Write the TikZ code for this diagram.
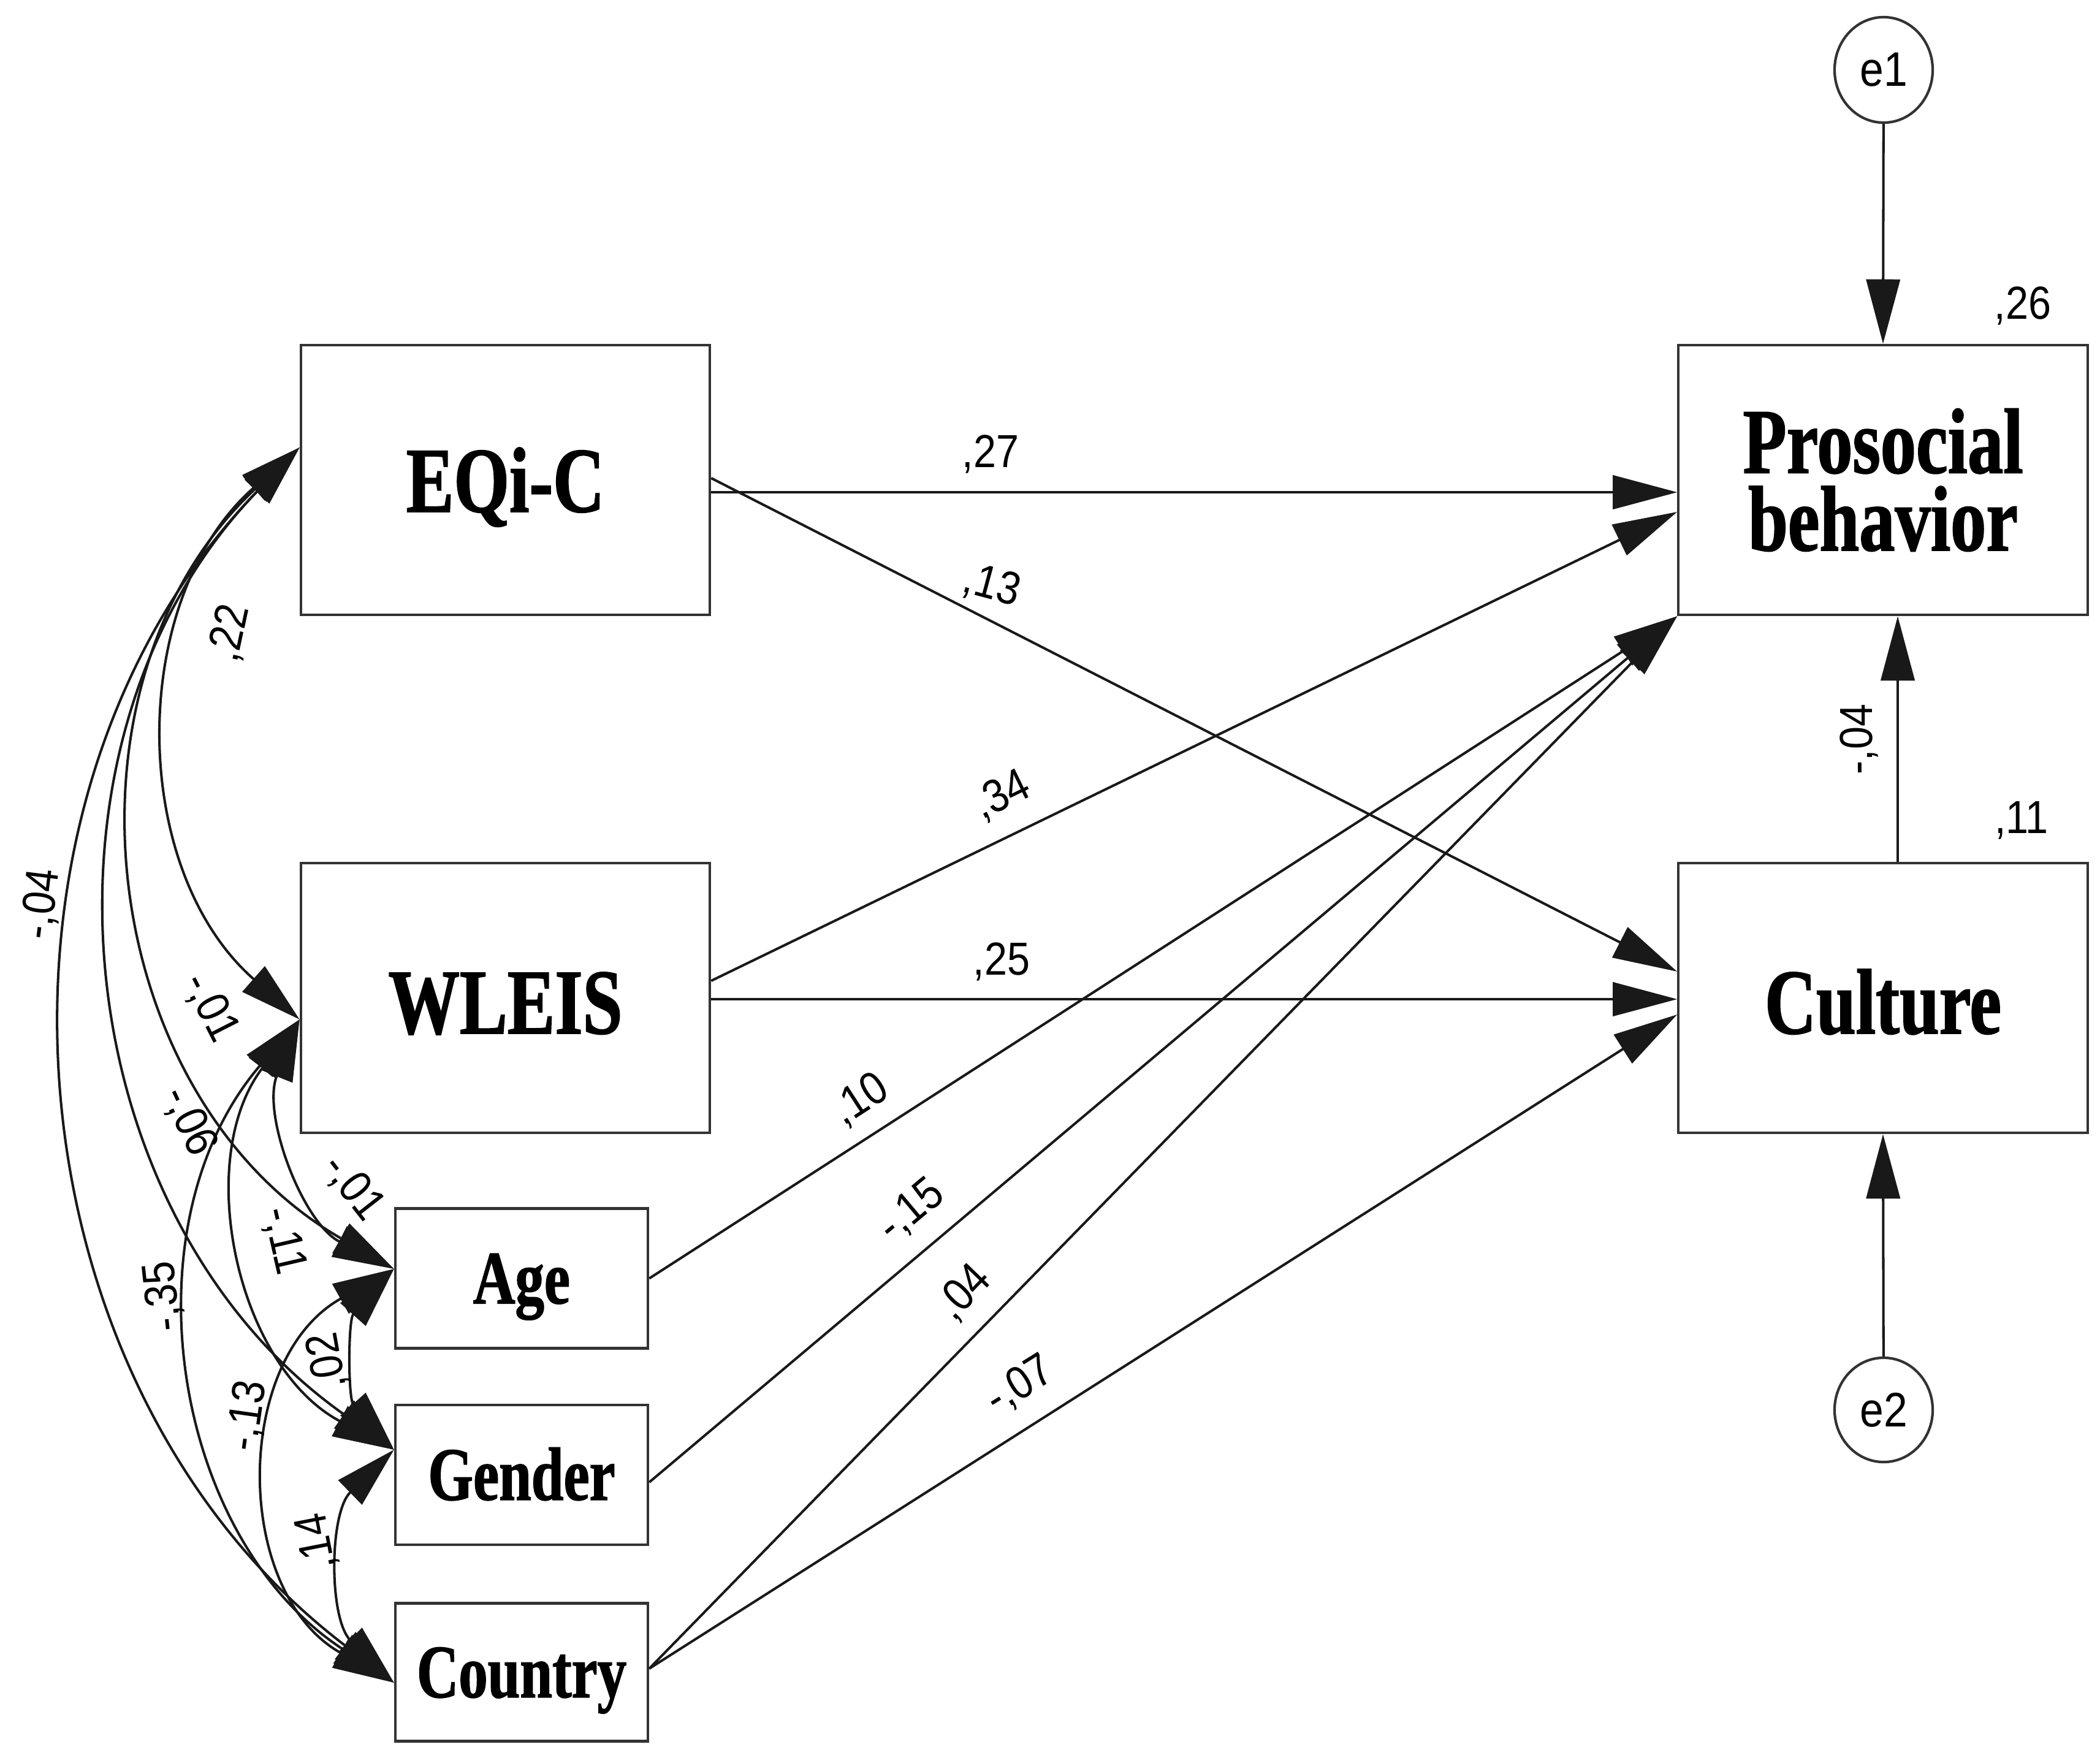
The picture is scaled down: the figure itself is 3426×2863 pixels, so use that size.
\documentclass[tikz,border=0pt]{standalone}
\usepackage{fontspec}
\usetikzlibrary{arrows.meta,shapes.geometric,calc}
\newfontfamily\boxfont{Liberation Serif}[FakeStretch=0.77, BoldFeatures={FakeBold=1.2}]
\newfontfamily\labfont{Liberation Sans}[FakeStretch=0.88]
\begin{document}
\begin{tikzpicture}[x=0.01cm, y=-0.01cm,
  box/.style={draw=black!80, line width=1.2pt, inner sep=0pt, fill=white},
  bigbox/.style={box, minimum width=6.67cm, minimum height=4.4cm,
     font=\boxfont\bfseries\fontsize{43}{36}\selectfont},
  smallbox/.style={box, minimum width=4.12cm, minimum height=2.28cm,
     font=\boxfont\bfseries\fontsize{35}{36}\selectfont, text height=23.2pt, text depth=0pt},
  err/.style={ellipse, draw=black!80, line width=1.2pt, minimum width=1.6cm, minimum height=1.72cm,
     inner sep=0pt, font=\labfont\fontsize{22.5}{24}\selectfont},
  pth/.style={line width=1.15pt, draw=black!90, -{Triangle[length=1.05cm,width=0.55cm]}},
  cov/.style={line width=1.15pt, draw=black!90,
     {Triangle[length=1.0cm,width=0.55cm]}-{Triangle[length=1.0cm,width=0.55cm]}},
  lab/.style={font=\labfont\fontsize{21.5}{24}\selectfont, inner sep=0pt}
]
\useasboundingbox (0,0) rectangle (3426,2863);

% boxes
\node[bigbox, text height=29.5pt, text depth=0pt] (eq) at (824.5,783) {EQi-C};
\node[bigbox, text height=33pt, text depth=0pt] (wl) at (824.5,1628) {WLEIS};
\node[bigbox, align=center] (pro) at (3072,783) {Prosocial\\behavior};
\node[bigbox, text height=33pt, text depth=0pt] (cul) at (3072,1628) {Culture};
\node[smallbox] (age) at (851,2085.5) {Age};
\node[smallbox] (gen) at (851,2406) {Gender};
\node[smallbox, minimum height=2.25cm] (cou) at (851,2728) {Country};
\node[err] (e1) at (3073,114) {e1};
\node[err, minimum height=1.7cm] (e2) at (3073,2300) {e2};

% directed paths
\draw[pth] ([yshift=-0.2cm]eq.east) -- ([yshift=-0.2cm]pro.west);
\draw[pth] ([yshift=0.03cm]eq.east) -- ([yshift=0.43cm]cul.west);
\draw[pth] ([yshift=0.28cm]wl.east) -- ([yshift=-0.52cm]pro.west);
\draw[pth] ([yshift=-0.02cm]wl.east) -- ([yshift=-0.02cm]cul.west);
\draw[pth] (age.east) -- (pro.south west);
\draw[pth] ([yshift=-0.12cm]gen.east) -- (pro.south west);
\draw[pth] ([yshift=0.06cm]cou.east) -- (pro.south west);
\draw[pth] ([yshift=0.06cm]cou.east) -- ([yshift=-0.27cm]cul.west);
\draw[pth] ([xshift=0.24cm]cul.north) -- ([xshift=0.24cm]pro.south);
\draw[pth] (e1) -- (pro.north);
\draw[pth] (e2) -- (cul.south);

% covariance attachment points
\coordinate (cE) at ([yshift=0.53cm]eq.west);
\coordinate (cW) at ([yshift=-0.35cm]wl.west);
\coordinate (cA) at ([yshift=0.155cm]age.west);
\coordinate (cG) at ([yshift=0.41cm]gen.west);
\coordinate (cK) at ([yshift=-0.17cm]cou.west);

% covariances
\draw[cov] (cE) to[bend right=48.7, looseness=1.025] (cW);
\draw[cov] (cE) to[bend right=53.5, looseness=1.068] (cA);
\draw[cov] (cE) to[bend right=49.4, looseness=1.03] (cG);
\draw[cov] (cE) to[bend right=48.4, looseness=1.02] (cK);
\draw[cov] (cW) to[bend right=42.7, looseness=0.98] (cA);
\draw[cov] (cW) to[bend right=49.8, looseness=1.03] (cG);
\draw[cov] (cW) to[bend right=48.7, looseness=1.025] (cK);
\draw[cov] (cA) to[bend right=42, looseness=0.975] (cG);
\draw[cov] (cA) to[bend right=60.8, looseness=1.145] (cK);
\draw[cov] (cG) to[bend right=45.8, looseness=1.0] (cK);

% path labels
\node[lab] (l27) at (1616,741) {,27};
\node[lab, rotate=-15] (l13) at (1618,956) {,13};
\node[lab, rotate=26] (l34) at (1635,1298) {,34};
\node[lab] (l25) at (1634,1569) {,25};
\node[lab, rotate=33] (l10) at (1404,1794) {,10};
\node[lab, rotate=40] (l15) at (1487,1975) {-,15};
\node[lab, rotate=46] (l04) at (1573,2109) {,04};
\node[lab, rotate=32] (l07) at (1664,2260) {-,07};
\node[lab] (l26) at (3300,499) {,26};
\node[lab] (l11) at (3298,1338) {,11};
\node[lab, rotate=90] (lpc) at (3033,1206) {-,04};

% covariance labels
\node[lab, rotate=78] (c22) at (375,1033) {,22};
\node[lab, rotate=83] (c04) at (68,1475) {-,04};
\node[lab, rotate=-63] (c01a) at (343,1644) {-,01};
\node[lab, rotate=-65] (c06) at (308,1829) {-,06};
\node[lab, rotate=-52] (c01b) at (576,1937) {-,01};
\node[lab, rotate=-77] (c11) at (462,2024) {-,11};
\node[lab, rotate=96] (c35) at (267,2115) {-,35};
\node[lab, rotate=82] (c13) at (404,2310) {-,13};
\node[lab, rotate=100] (c02) at (535,2220) {,02};
\node[lab, rotate=101] (c14) at (517,2515) {,14};
\end{tikzpicture}
\end{document}
